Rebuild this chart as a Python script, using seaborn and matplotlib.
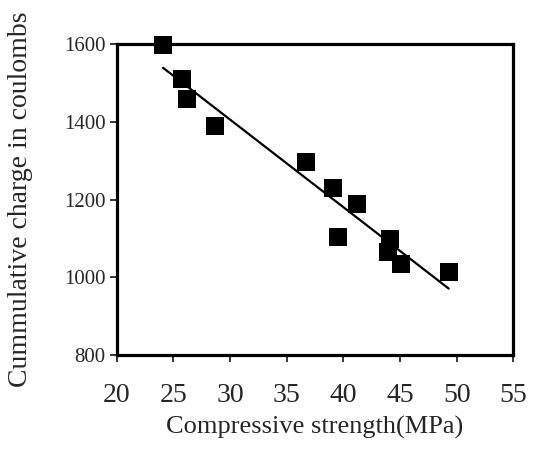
import matplotlib
matplotlib.use("Agg")
import matplotlib.pyplot as plt
import pandas as pd
import seaborn as sns

# values
strength = [24.1, 25.8, 26.2, 28.7, 36.7, 39.1, 41.2, 39.5, 44.1, 43.9, 45.1, 49.3]
charge = [1598, 1510, 1460, 1389, 1297, 1231, 1190, 1103, 1098, 1066, 1034, 1013]
x_ticks = [20, 25, 30, 35, 40, 45, 50, 55]
y_ticks = [800, 1000, 1200, 1400, 1600]


def main() -> None:
    df = pd.DataFrame({"strength": strength, "charge": charge})

    sns.set_theme(style="ticks")
    plt.rcParams["font.family"] = ["Liberation Serif", "DejaVu Serif"]

    fig = plt.figure(figsize=(5.35, 4.5), dpi=100)
    ax = fig.add_axes([0.218, 0.211, 0.7415, 0.6905])

    sns.regplot(
        data=df, x="strength", y="charge", ax=ax, ci=None, marker="s",
        scatter_kws={"s": 160, "color": "black", "edgecolor": "black", "linewidths": 0, "alpha": 1},
        line_kws={"color": "black", "lw": 1.6},
    )

    ax.set_xlim(20, 55)
    ax.set_ylim(800, 1600)
    ax.set_xticks(x_ticks)
    ax.set_yticks(y_ticks)
    ax.tick_params(axis="x", labelsize=20, direction="out", length=5, width=1.3, pad=15)
    ax.tick_params(axis="y", labelsize=15, direction="out", length=5, width=1.3, pad=3)
    for side in ["left", "right", "top", "bottom"]:
        ax.spines[side].set_visible(True)
        ax.spines[side].set_linewidth(2.3)
        ax.spines[side].set_color("black")
    ax.set_xlabel("Compressive strength(MPa)", fontsize=19, labelpad=6)
    ax.set_ylabel("Cummulative charge in coulombs", fontsize=20, labelpad=22)
    for c in ax.collections:
        c.set_clip_on(False)

    fig.savefig("out.png", dpi=100)


if __name__ == "__main__":
    main()
